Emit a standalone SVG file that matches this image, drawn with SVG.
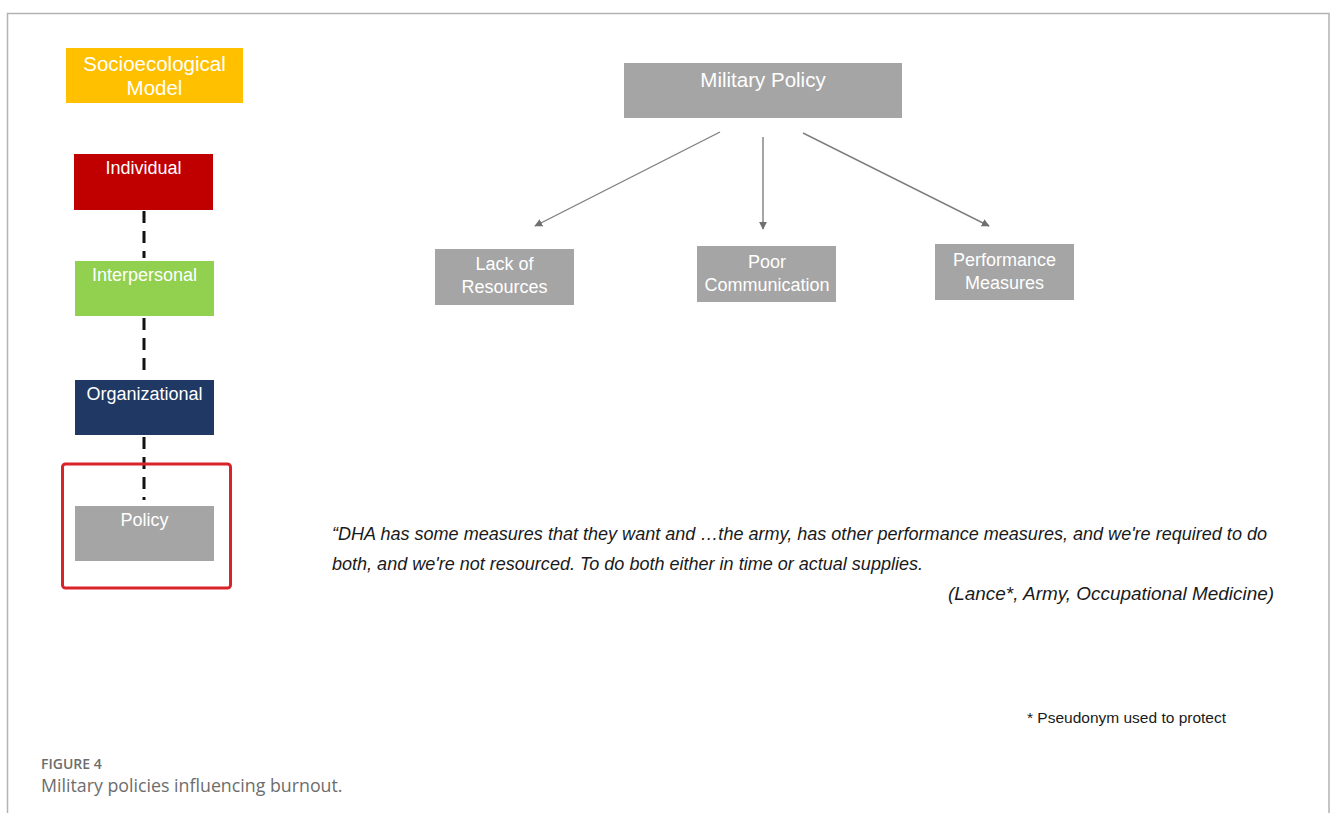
<svg xmlns="http://www.w3.org/2000/svg" width="1330" height="813" viewBox="0 0 1330 813">
  <style>
    .box { stroke: none; }
    .lbl { font-family: "Liberation Sans", Arial, sans-serif; font-size: 18px; fill: #ffffff; text-anchor: middle; }
    .big { font-size: 20.5px; }
    .quote { font-family: "Liberation Sans", Arial, sans-serif; font-size: 17.5px; font-style: italic; fill: #1a1a1a; }
    .dash { stroke: #111111; stroke-width: 3; stroke-dasharray: 12 8; fill: none; }
    .conn { stroke: #7f7f7f; stroke-width: 1.4; fill: none; marker-end: url(#tri); }
    .cap { font-family: "Open Sans", "Noto Sans", sans-serif; fill: #6d6d6d; }
  </style>
  <defs>
    <marker id="tri" viewBox="0 0 10 10" refX="9" refY="5" markerWidth="8" markerHeight="8" markerUnits="userSpaceOnUse" orient="auto">
      <path d="M0,0 L10,5 L0,10 Z" fill="#6f6f6f"/>
    </marker>
  </defs>

  <rect width="1330" height="813" fill="#ffffff"/>
  <!-- outer frame -->
  <path d="M7.5,813 V13.5 H1329 V813" fill="none" stroke="#b3b3b3" stroke-width="1.5"/>

  <!-- socioecological levels -->
  <g id="socioecological-model">
    <rect class="box" x="66" y="48" width="177" height="55" fill="#ffc000"/>
    <text class="lbl big" x="154.5" y="71">Socioecological</text>
    <text class="lbl big" x="154.5" y="95">Model</text>
  </g>

  <g id="levels-connectors">
    <line class="dash" x1="144" y1="211" x2="144" y2="258"/>
    <line class="dash" x1="144" y1="318" x2="144" y2="377"/>
    <line class="dash" x1="144" y1="437" x2="144" y2="500"/>
  </g>

  <g id="individual">
    <rect class="box" x="74" y="154" width="139" height="56" fill="#c00000"/>
    <text class="lbl" x="143.5" y="174">Individual</text>
  </g>
  <g id="interpersonal">
    <rect class="box" x="75" y="261" width="139" height="55" fill="#92d050"/>
    <text class="lbl" x="144.5" y="281">Interpersonal</text>
  </g>
  <g id="organizational">
    <rect class="box" x="75" y="380" width="139" height="55" fill="#1f3864"/>
    <text class="lbl" x="144.5" y="400">Organizational</text>
  </g>
  <g id="policy">
    <rect class="box" x="75" y="506" width="139" height="55" fill="#a5a5a5"/>
    <text class="lbl" x="144.5" y="526">Policy</text>
  </g>
  <g id="policy-highlight">
    <rect x="62.5" y="464" width="168" height="124" rx="3" fill="none" stroke="#d9232a" stroke-width="3"/>
  </g>

  <!-- policy breakdown -->
  <g id="military-policy">
    <rect class="box" x="624" y="63" width="278" height="55" fill="#a5a5a5" stroke="#bdbdbd" stroke-width="1"/>
    <text class="lbl big" x="763" y="87">Military Policy</text>
  </g>
  <g id="lack-of-resources">
    <rect class="box" x="435" y="249" width="139" height="56" fill="#a5a5a5" stroke="#bdbdbd" stroke-width="1"/>
    <text class="lbl" x="504.5" y="270">Lack of</text>
    <text class="lbl" x="504.5" y="293">Resources</text>
  </g>
  <g id="poor-communication">
    <rect class="box" x="697" y="246" width="139" height="56" fill="#a5a5a5" stroke="#bdbdbd" stroke-width="1"/>
    <text class="lbl" x="767" y="268">Poor</text>
    <text class="lbl" x="767" y="291">Communication</text>
  </g>
  <g id="performance-measures">
    <rect class="box" x="935" y="244" width="139" height="56" fill="#a5a5a5" stroke="#bdbdbd" stroke-width="1"/>
    <text class="lbl" x="1004.5" y="266">Performance</text>
    <text class="lbl" x="1004.5" y="289">Measures</text>
  </g>

  <g id="connectors">
    <line class="conn" x1="720" y1="132" x2="535" y2="226"/>
    <line class="conn" x1="763" y1="137" x2="763" y2="229"/>
    <line class="conn" x1="803" y1="133" x2="989" y2="226"/>
  </g>

  <!-- quotation -->
  <g id="quote">
    <text class="quote" x="332" y="540" textLength="935" lengthAdjust="spacingAndGlyphs">“DHA has some measures that they want and …the army, has other performance measures, and we're required to do</text>
    <text class="quote" x="332" y="570" textLength="591" lengthAdjust="spacingAndGlyphs">both, and we're not resourced. To do both either in time or actual supplies.</text>
    <text class="quote" x="948" y="600" textLength="326" lengthAdjust="spacingAndGlyphs">(Lance*, Army, Occupational Medicine)</text>
  </g>

  <g id="footnote">
    <text x="1027" y="723" font-family="Liberation Sans, Arial, sans-serif" font-size="15.5" fill="#1a1a1a">* Pseudonym used to protect</text>
  </g>

  <!-- caption -->
  <g id="caption">
    <text class="cap" x="41" y="769" font-size="14" font-weight="600" fill="#777777">FIGURE 4</text>
    <text class="cap" x="41" y="792" font-size="17.8" fill="#5f5f5f">Military policies influencing burnout.</text>
  </g>
</svg>
